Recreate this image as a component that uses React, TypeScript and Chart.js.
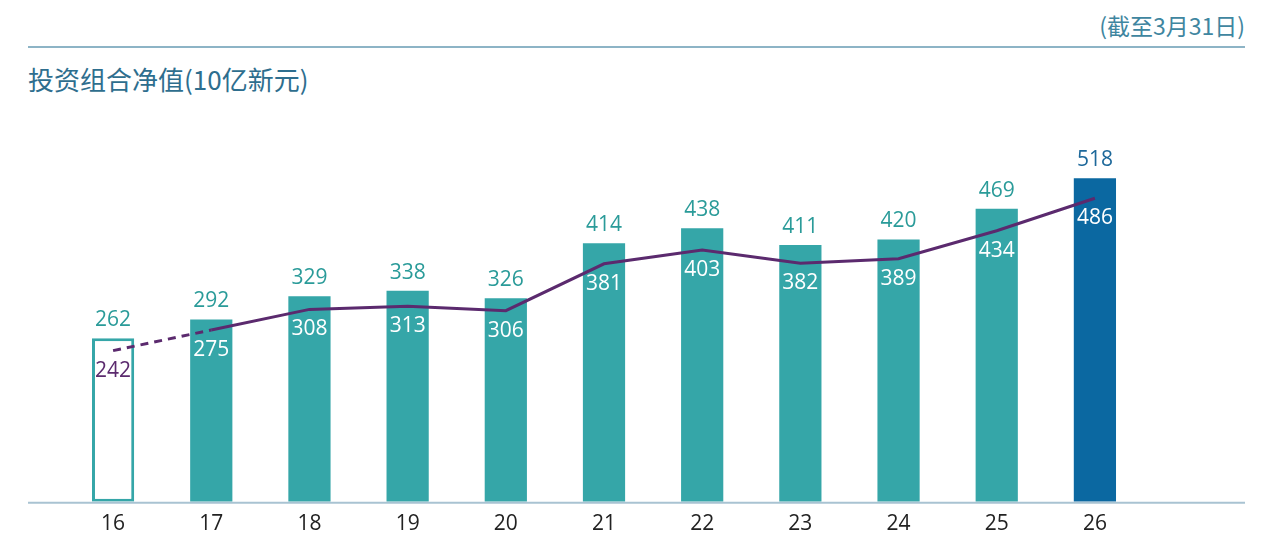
import React, { useEffect, useRef } from "react";
import { Chart, registerables } from "chart.js";

Chart.register(...registerables);

const years = ["16", "17", "18", "19", "20", "21", "22", "23", "24", "25", "26"];
const portfolioValues = [262, 292, 329, 338, 326, 414, 438, 411, 420, 469, 518];
const rollingValues = [242, 275, 308, 313, 306, 381, 403, 382, 389, 434, 486];

const TEAL = "#35a6a8";
const TEAL_TEXT = "#2a9b99";
const DARK_BLUE = "#0b68a1";
const PURPLE = "#5b2a6e";
const FONT = "'Open Sans', 'Noto Sans', sans-serif";

const barFill = years.map((_, i) =>
  i === 0 ? "#ffffff" : i === years.length - 1 ? DARK_BLUE : TEAL
);
const barBorderWidth = years.map((_, i) => (i === 0 ? 3 : 0));

// value labels above bars and under line points, plus the long baseline
const labelsPlugin = {
  id: "valueLabels",
  afterDatasetsDraw(chart: Chart) {
    const ctx = chart.ctx;
    const barMeta = chart.getDatasetMeta(0);
    const lineMeta = chart.getDatasetMeta(1);
    ctx.save();
    ctx.font = `21px ${FONT}`;
    ctx.textAlign = "center";
    ctx.textBaseline = "middle";
    barMeta.data.forEach((el: any, i: number) => {
      ctx.fillStyle = i === years.length - 1 ? "#1d689a" : TEAL_TEXT;
      ctx.fillText(String(portfolioValues[i]), el.x, el.y - 18);
    });
    lineMeta.data.forEach((el: any, i: number) => {
      ctx.fillStyle = i === 0 ? PURPLE : "#ffffff";
      ctx.fillText(String(rollingValues[i]), el.x, el.y + 20);
    });
    const y = chart.chartArea.bottom;
    ctx.strokeStyle = "#a9c3d2";
    ctx.lineWidth = 2;
    ctx.beginPath();
    ctx.moveTo(28, y + 1);
    ctx.lineTo(1245, y + 1);
    ctx.stroke();
    ctx.restore();
  },
};

const App: React.FC = () => {
  const chartRef = useRef<HTMLCanvasElement>(null);
  const chartInstance = useRef<Chart>();

  useEffect(() => {
    document.body.style.margin = "0";
    if (chartRef.current) {
      const ctx = chartRef.current.getContext("2d");
      if (ctx) {
        chartInstance.current = new Chart(ctx, {
          type: "bar",
          data: {
            labels: years,
            datasets: [
              {
                type: "bar",
                label: "portfolio",
                data: portfolioValues,
                backgroundColor: barFill,
                borderColor: TEAL,
                borderWidth: barBorderWidth,
                borderSkipped: false,
                categoryPercentage: 1,
                barPercentage: 0.43,
                order: 1,
              },
              {
                type: "line",
                label: "rolling",
                data: rollingValues,
                borderColor: PURPLE,
                borderWidth: 3,
                pointRadius: 0,
                tension: 0,
                order: 0,
                segment: {
                  borderDash: (c: any) => (c.p0DataIndex === 0 ? [8, 6] : undefined),
                },
              },
            ],
          },
          options: {
            responsive: false,
            animation: false,
            layout: { padding: { left: 64, right: 136, top: 127, bottom: -3 } },
            plugins: {
              legend: { display: false },
              tooltip: { enabled: false },
            },
            scales: {
              x: {
                grid: { display: false, drawTicks: false },
                border: { display: false },
                ticks: {
                  color: "#222222",
                  font: { family: FONT, size: 21 },
                  padding: 10,
                },
              },
              y: {
                display: false,
                min: 0,
                max: 600,
              },
            },
          },
          plugins: [labelsPlugin],
        });
      }
    }

    return () => {
      if (chartInstance.current) {
        chartInstance.current.destroy();
      }
    };
  }, []);

  return (
    <div style={{ position: "relative", width: 1280, height: 544, background: "#ffffff" }}>
      <div
        style={{
          position: "absolute",
          right: 35,
          top: 8,
          fontFamily: "'Noto Sans CJK SC', sans-serif",
          fontSize: 23,
          color: "#3f86a0",
          lineHeight: "34px",
        }}
      >
        (截至3月31日)
      </div>
      <div
        style={{
          position: "absolute",
          left: 28,
          top: 46,
          width: 1217,
          height: 2,
          background: "#8db4c6",
        }}
      />
      <div
        style={{
          position: "absolute",
          left: 28,
          top: 60,
          fontFamily: "'Noto Sans CJK SC', sans-serif",
          fontSize: 26,
          color: "#2e6e8e",
          lineHeight: "38px",
        }}
      >
        投资组合净值(10亿新元)
      </div>
      <canvas
        ref={chartRef}
        width={1280}
        height={544}
        style={{ position: "absolute", left: 0, top: 0 }}
      />
    </div>
  );
};

export default App;
